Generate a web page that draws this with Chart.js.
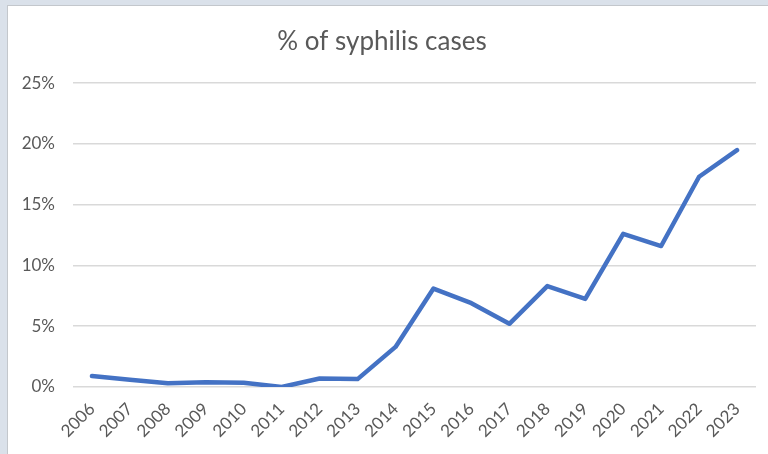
<!DOCTYPE html>
<html>
<head>
<meta charset="utf-8">
<script src="https://cdn.jsdelivr.net/npm/chart.js@4/dist/chart.umd.min.js"></script>
<style>
  html, body { margin: 0; padding: 0; background: #dae1ea; }
  body { width: 768px; height: 454px; position: relative; overflow: hidden; }
  #frame {
    position: absolute; left: 7px; top: 5px; width: 761px; height: 449px;
    background: #ffffff; border-top: 1px solid #c3c7cc; border-left: 1px solid #c3c7cc;
  }
  #frame canvas { display: block; }
</style>
</head>
<body>
<div id="frame"><canvas id="c" width="760" height="448"></canvas></div>
<script>
const years = ['2006','2007','2008','2009','2010','2011','2012','2013','2014',
               '2015','2016','2017','2018','2019','2020','2021','2022','2023'];
const syphilisShare = [0.9, 0.6, 0.3, 0.4, 0.35, 0.0, 0.7, 0.65, 3.3,
                       8.1, 6.9, 5.2, 8.3, 7.25, 12.6, 11.6, 17.3, 19.5];
const yTicks = [0, 5, 10, 15, 20, 25];

const textColor = '#595959';
const gridColor = '#d9d9d9';
const fontFamily = 'Lato, "Open Sans", sans-serif';

new Chart(document.getElementById('c'), {
  type: 'line',
  data: {
    labels: years,
    datasets: [{
      label: '% of syphilis cases',
      data: syphilisShare,
      borderColor: '#4472c4',
      borderWidth: 4.5,
      pointRadius: 0,
      tension: 0,
      fill: false,
      borderCapStyle: 'round',
      borderJoinStyle: 'round'
    }]
  },
  options: {
    responsive: false,
    animation: false,
    layout: { padding: { left: 0, right: 12, top: 0, bottom: 3 } },
    plugins: {
      legend: { display: false },
      tooltip: { enabled: false },
      title: {
        display: true,
        text: '% of syphilis cases',
        color: textColor,
        font: { family: fontFamily, size: 26, weight: 'normal' },
        padding: { top: 20, bottom: 26 }
      }
    },
    scales: {
      x: {
        offset: true,
        grid: { display: false, drawTicks: false },
        border: { display: false },
        ticks: {
          color: textColor,
          font: { family: fontFamily, size: 17 },
          minRotation: 45, maxRotation: 45,
          padding: 12,
          autoSkip: false
        },
        afterFit: s => { s.height = 64; }
      },
      y: {
        min: 0, max: 25,
        afterBuildTicks: s => { s.ticks = yTicks.map(v => ({ value: v })); },
        grid: { color: gridColor, lineWidth: 1.5, drawTicks: false },
        border: { display: false },
        ticks: {
          color: textColor,
          font: { family: fontFamily, size: 17 },
          padding: 18,
          callback: v => v + '%'
        },
        afterFit: s => { s.width = 65; }
      }
    }
  }
});
</script>
</body>
</html>
